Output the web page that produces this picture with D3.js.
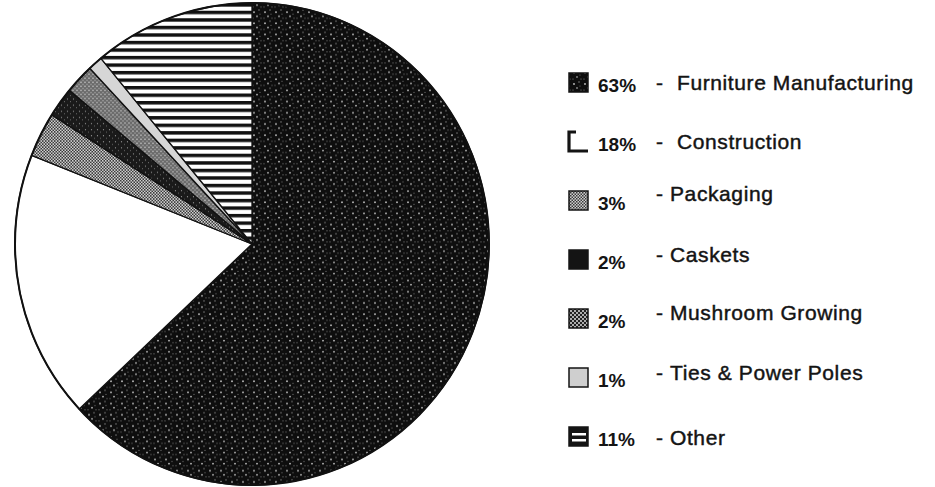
<!DOCTYPE html>
<html>
<head>
<meta charset="utf-8">
<script src="https://cdn.jsdelivr.net/npm/d3@7"></script>
<style>
  body { margin: 0; background: #fff; }
  text { font-family: "Liberation Sans", Arial, sans-serif; fill: #141414; }
</style>
</head>
<body>
<script>
// slices, clockwise from 12 o'clock
var categories = ["Furniture Manufacturing", "Construction", "Packaging", "Caskets",
                  "Mushroom Growing", "Ties & Power Poles", "Other"];
var shares = [63, 18, 3, 2, 2, 1, 11];
var pctLabels = ["63%", "18%", "3%", "2%", "2%", "1%", "11%"];

var width = 935, height = 487;
var cx = 252, cy = 244, rx = 237, ry = 241;

// fill per slice (pie) and per legend swatch
var sliceFill = ["url(#speck)", "#ffffff", "url(#checker)", "url(#darkspeck)",
                 "url(#stipple)", "#d6d6d6", "url(#stripes)"];
var swatchFill = ["url(#speck)", "#ffffff", "url(#checker)", "#141414",
                  "url(#dots)", "#cfcfcf", "url(#swstripes)"];
// label baseline nudge relative to the percent text
var labelShift = [-2, -2, -9, -7, -8, -7, -1];

var svg = d3.select("body")
            .append("svg")
            .attr("width", width)
            .attr("height", height);

var defs = svg.append("defs");

// black with white specks
var p = defs.append("pattern").attr("id", "speck").attr("patternUnits", "userSpaceOnUse")
    .attr("width", 11).attr("height", 11);
p.append("rect").attr("width", 11).attr("height", 11).attr("fill", "#0e0e0e");
[[2, 3, 0.9, 0.75], [7, 1, 0.7, 0.55], [5, 7, 0.8, 0.8], [9, 9, 0.6, 0.5], [1, 9, 0.6, 0.5], [8, 5, 0.6, 0.4]]
  .forEach(function(d) {
    p.append("circle").attr("cx", d[0]).attr("cy", d[1]).attr("r", d[2])
      .attr("fill", "#fff").attr("opacity", d[3]);
  });

// darker, finer speck for caskets
var p2 = defs.append("pattern").attr("id", "darkspeck").attr("patternUnits", "userSpaceOnUse")
    .attr("width", 6).attr("height", 6);
p2.append("rect").attr("width", 6).attr("height", 6).attr("fill", "#1a1a1a");
p2.append("circle").attr("cx", 1.5).attr("cy", 1.5).attr("r", 0.6).attr("fill", "#999");
p2.append("circle").attr("cx", 4.5).attr("cy", 4).attr("r", 0.5).attr("fill", "#777");

// fine checker for packaging
var p3 = defs.append("pattern").attr("id", "checker").attr("patternUnits", "userSpaceOnUse")
    .attr("width", 3).attr("height", 3);
p3.append("rect").attr("width", 3).attr("height", 3).attr("fill", "#d0d0d0");
p3.append("rect").attr("width", 1.5).attr("height", 1.5).attr("fill", "#3a3a3a");
p3.append("rect").attr("x", 1.5).attr("y", 1.5).attr("width", 1.5).attr("height", 1.5).attr("fill", "#3a3a3a");

// medium stipple for mushroom
var p4 = defs.append("pattern").attr("id", "stipple").attr("patternUnits", "userSpaceOnUse")
    .attr("width", 4).attr("height", 4);
p4.append("rect").attr("width", 4).attr("height", 4).attr("fill", "#6a6a6a");
p4.append("circle").attr("cx", 1).attr("cy", 1).attr("r", 0.8).attr("fill", "#bdbdbd");
p4.append("circle").attr("cx", 3).attr("cy", 3).attr("r", 0.8).attr("fill", "#a0a0a0");

// legend dots (white dots on black)
var p5 = defs.append("pattern").attr("id", "dots").attr("patternUnits", "userSpaceOnUse")
    .attr("width", 4).attr("height", 4);
p5.append("rect").attr("width", 4).attr("height", 4).attr("fill", "#222");
p5.append("circle").attr("cx", 1).attr("cy", 1).attr("r", 1).attr("fill", "#ddd");
p5.append("circle").attr("cx", 3).attr("cy", 3).attr("r", 1).attr("fill", "#ddd");

// horizontal stripes for "other"
var p6 = defs.append("pattern").attr("id", "stripes").attr("patternUnits", "userSpaceOnUse")
    .attr("width", 10).attr("height", 7.4);
p6.append("rect").attr("width", 10).attr("height", 7.4).attr("fill", "#fff");
p6.append("rect").attr("y", 0).attr("width", 10).attr("height", 3.4).attr("fill", "#111");

var p7 = defs.append("pattern").attr("id", "swstripes").attr("patternUnits", "objectBoundingBox")
    .attr("width", 1).attr("height", 1);
p7.append("rect").attr("width", 20).attr("height", 20).attr("fill", "#141414");
p7.append("rect").attr("x", 3).attr("y", 6).attr("width", 14).attr("height", 2.5).attr("fill", "#fff");
p7.append("rect").attr("x", 3).attr("y", 12).attr("width", 14).attr("height", 2.5).attr("fill", "#fff");

var pie = d3.pie().sort(null).value(function(d) { return d; });
var arc = d3.arc().innerRadius(0).outerRadius(rx);

var g = svg.append("g")
  .attr("transform", "translate(" + cx + "," + cy + ") scale(1," + (ry / rx) + ")");

g.selectAll("path")
  .data(pie(shares))
  .enter()
  .append("path")
  .attr("d", arc)
  .attr("fill", function(d, i) { return sliceFill[i]; })
  .attr("stroke", "#111")
  .attr("stroke-width", 1.3)
  .attr("stroke-linejoin", "round");

g.append("circle")
  .attr("r", rx)
  .attr("fill", "none")
  .attr("stroke", "#111")
  .attr("stroke-width", 2);

// legend
var y = d3.scalePoint().domain(categories).range([92, 446]);

var rows = svg.selectAll("g.row")
  .data(categories)
  .enter()
  .append("g")
  .attr("class", "row")
  .attr("transform", function(d) { return "translate(0," + y(d) + ")"; });

rows.append("rect")
  .attr("x", 569)
  .attr("y", -19)
  .attr("width", 19)
  .attr("height", 19)
  .attr("fill", function(d, i) { return swatchFill[i]; })
  .attr("stroke", "#141414")
  .attr("stroke-width", function(d, i) { return i == 1 ? 3.2 : 1.5; })
  .attr("stroke-dasharray", function(d, i) { return i == 1 ? "7,31,38" : null; });

rows.append("text")
  .attr("x", 598)
  .attr("y", 0)
  .attr("font-size", 19)
  .attr("font-weight", "bold")
  .text(function(d, i) { return pctLabels[i]; });

rows.append("text")
  .attr("x", 656)
  .attr("y", function(d, i) { return labelShift[i]; })
  .attr("font-size", 21)
  .attr("stroke", "#141414")
  .attr("stroke-width", 0.45)
  .text("-");

rows.append("text")
  .attr("x", function(d, i) { return i < 2 ? 677 : 670; })
  .attr("y", function(d, i) { return labelShift[i]; })
  .attr("font-size", 21)
  .attr("letter-spacing", 0.6)
  .attr("stroke", "#141414")
  .attr("stroke-width", 0.45)
  .text(function(d) { return d; });
</script>
</body>
</html>
